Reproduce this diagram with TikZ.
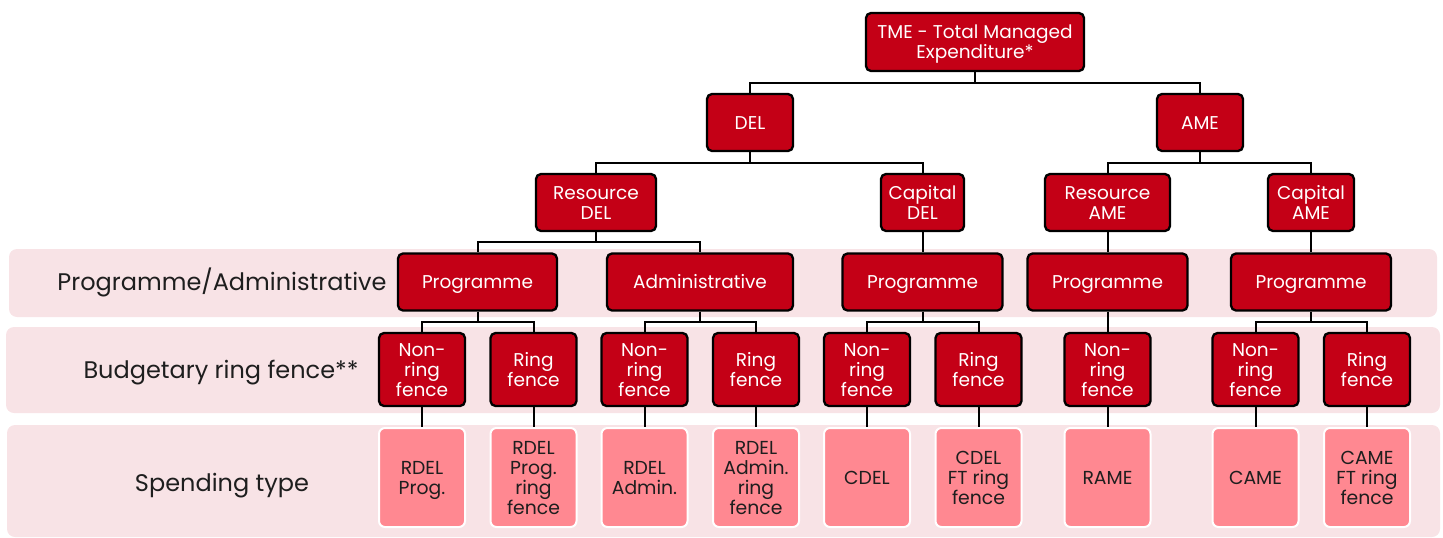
\documentclass[tikz,border=0pt]{standalone}
\usepackage{fontspec}
\setmainfont{Poppins}
\usetikzlibrary{calc}
\definecolor{boxred}{HTML}{C40016}
\definecolor{spendpink}{HTML}{FF8891}
\definecolor{bandpink}{HTML}{F8E3E6}
\definecolor{labtext}{HTML}{1E1E1E}
\newcommand{\tln}[1]{\rule[-3.5pt]{0pt}{20pt}\smash{#1}}
\newcommand{\rln}[1]{\rule[-3pt]{0pt}{23pt}\smash{#1}}
\newcommand{\treelink}[2]{\draw[conn] (#1.south) |- ($(#1.south)!0.5!(#2.north)$) -| (#2.north);}
\begin{document}
\begin{tikzpicture}[x=1pt,y=-1pt,
  redbox/.style={draw=black, line width=2.3pt, fill=boxred, rounded corners=5pt, text=white,
    align=center, inner sep=0pt, font=\fontsize{18.5}{20}\selectfont},
  spendbox/.style={draw=white, line width=2pt, fill=spendpink, rounded corners=6pt, text=labtext,
    align=center, inner sep=0pt, minimum width=86pt, minimum height=99pt, font=\fontsize{18.8}{20}\selectfont},
  band/.style={fill=bandpink, rounded corners=8pt},
  rowlabel/.style={text=labtext, font=\fontsize{24}{28}\selectfont, inner sep=0pt},
  conn/.style={draw=black, line width=2pt}]
\useasboundingbox (0,0) rectangle (1443,538);
% bands
\path[band] (9,249) rectangle (1437,317);
\path[band] (6,327) rectangle (1440,413);
\path[band] (7,425) rectangle (1440,537);
% row labels
\node[rowlabel] (lab1) at (222,282) {\rln{Programme/Administrative}};
\node[rowlabel] (lab2) at (221,370) {\rln{Budgetary ring fence**}};
\node[rowlabel] (lab3) at (222,483) {\rln{Spending type}};
% level 0
\node[redbox, minimum width=218pt, minimum height=58pt] (tme) at (975,42) {\tln{TME - Total Managed}\\\tln{Expenditure*}};
% level 1
\node[redbox, minimum width=86pt, minimum height=57pt] (del) at (750,122.5) {\tln{DEL}};
\node[redbox, minimum width=86pt, minimum height=57pt] (ame) at (1200,122.5) {\tln{AME}};
% level 2
\node[redbox, minimum width=120pt, minimum height=57pt] (rdel) at (596,202.5) {\tln{Resource}\\\tln{DEL}};
\node[redbox, minimum width=83pt, minimum height=57pt] (cdel) at (922.5,202.5) {\tln{Capital}\\\tln{DEL}};
\node[redbox, minimum width=125pt, minimum height=57pt] (rame) at (1107.5,202.5) {\tln{Resource}\\\tln{AME}};
\node[redbox, minimum width=86pt, minimum height=57pt] (came) at (1311,202.5) {\tln{Capital}\\\tln{AME}};
% level 3
\node[redbox, minimum width=159pt, minimum height=57pt] (p1) at (477.5,282) {\tln{Programme}};
\node[redbox, minimum width=186pt, minimum height=57pt] (adm) at (700,282) {\tln{Administrative}};
\node[redbox, minimum width=160pt, minimum height=57pt] (p2) at (922.5,282) {\tln{Programme}};
\node[redbox, minimum width=160pt, minimum height=57pt] (p3) at (1107.5,282) {\tln{Programme}};
\node[redbox, minimum width=160pt, minimum height=57pt] (p4) at (1311,282) {\tln{Programme}};
% level 4
\foreach \nm/\xx/\tx in {n1/422/{\tln{Non-}\\\tln{ring}\\\tln{fence}}, r1/533.5/{\tln{Ring}\\\tln{fence}},
  n2/644.5/{\tln{Non-}\\\tln{ring}\\\tln{fence}}, r2/756/{\tln{Ring}\\\tln{fence}},
  n3/867/{\tln{Non-}\\\tln{ring}\\\tln{fence}}, r3/978.5/{\tln{Ring}\\\tln{fence}},
  n4/1107.5/{\tln{Non-}\\\tln{ring}\\\tln{fence}}, n5/1255.5/{\tln{Non-}\\\tln{ring}\\\tln{fence}},
  r5/1367/{\tln{Ring}\\\tln{fence}}}
  \node[redbox, minimum width=86pt, minimum height=73pt] (\nm) at (\xx,369.5) {\tx};
% level 5
\node[spendbox] (s1) at (422,477.5) {\tln{RDEL}\\\tln{Prog.}};
\node[spendbox] (s2) at (533.5,477.5) {\tln{RDEL}\\\tln{Prog.}\\\tln{ring}\\\tln{fence}};
\node[spendbox] (s3) at (644.5,477.5) {\tln{RDEL}\\\tln{Admin.}};
\node[spendbox] (s4) at (756,477.5) {\tln{RDEL}\\\tln{Admin.}\\\tln{ring}\\\tln{fence}};
\node[spendbox] (s5) at (867,477.5) {\tln{CDEL}};
\node[spendbox] (s6) at (978.5,477.5) {\tln{CDEL}\\\tln{FT ring}\\\tln{fence}};
\node[spendbox] (s7) at (1107.5,477.5) {\tln{RAME}};
\node[spendbox] (s8) at (1255.5,477.5) {\tln{CAME}};
\node[spendbox] (s9) at (1367,477.5) {\tln{CAME}\\\tln{FT ring}\\\tln{fence}};
% connectors
\treelink{tme}{del}
\treelink{tme}{ame}
\treelink{del}{rdel}
\treelink{del}{cdel}
\treelink{ame}{rame}
\treelink{ame}{came}
\treelink{rdel}{p1}
\treelink{rdel}{adm}
\treelink{cdel}{p2}
\treelink{rame}{p3}
\treelink{came}{p4}
\treelink{p1}{n1}
\treelink{p1}{r1}
\treelink{adm}{n2}
\treelink{adm}{r2}
\treelink{p2}{n3}
\treelink{p2}{r3}
\treelink{p3}{n4}
\treelink{p4}{n5}
\treelink{p4}{r5}
\draw[conn] (n1.south) -- (s1.north);
\draw[conn] (r1.south) -- (s2.north);
\draw[conn] (n2.south) -- (s3.north);
\draw[conn] (r2.south) -- (s4.north);
\draw[conn] (n3.south) -- (s5.north);
\draw[conn] (r3.south) -- (s6.north);
\draw[conn] (n4.south) -- (s7.north);
\draw[conn] (n5.south) -- (s8.north);
\draw[conn] (r5.south) -- (s9.north);
\end{tikzpicture}
\end{document}
